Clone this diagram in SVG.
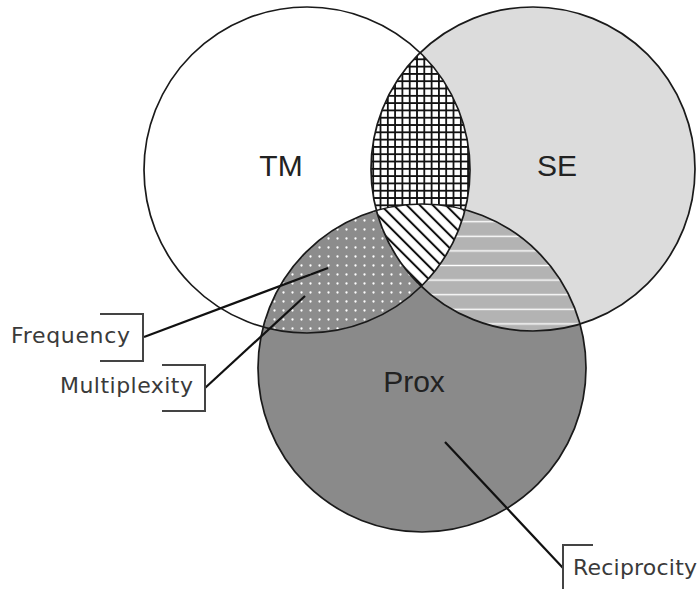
<svg xmlns="http://www.w3.org/2000/svg" width="700" height="589" viewBox="0 0 700 589">
  <style>
    .ring { fill: none; stroke: #1a1a1a; stroke-width: 1.7; }
    .big { font-family: "Liberation Sans", Arial, sans-serif; font-size: 30px; fill: #222; }
    .lbl { font-family: "DejaVu Sans", Verdana, sans-serif; font-size: 22px; fill: #3a3a3a; }
    .lead { fill: none; stroke: #111; stroke-width: 2.2; }
    .brk { fill: none; stroke: #444; stroke-width: 2; }
  </style>
  <defs>
    <clipPath id="cTM"><circle cx="307" cy="170" r="163"/></clipPath>
    <clipPath id="cSE"><circle cx="533" cy="169" r="162"/></clipPath>
    <clipPath id="cPX"><circle cx="422" cy="368" r="164"/></clipPath>

    <!-- square grid -->
    <pattern id="cross" patternUnits="userSpaceOnUse" x="0" y="0" width="7.3" height="7.3">
      <rect width="7.3" height="7.3" fill="#fff"/>
      <path d="M0 0.9H7.3M0.9 0V7.3" stroke="#111" stroke-width="1.8"/>
    </pattern>
    <!-- diagonal hatching -->
    <pattern id="diag" patternUnits="userSpaceOnUse" width="9.2" height="9.2" patternTransform="rotate(-45)">
      <rect width="9.2" height="9.2" fill="#fff"/>
      <line x1="4.6" y1="0" x2="4.6" y2="9.2" stroke="#111" stroke-width="2"/>
    </pattern>
    <!-- horizontal white stripes -->
    <pattern id="stripe" patternUnits="userSpaceOnUse" x="0" y="214.4" width="20" height="14.6">
      <rect width="20" height="14.6" fill="#b3b3b3"/>
      <line x1="0" y1="7.3" x2="20" y2="7.3" stroke="#fff" stroke-width="1.4"/>
    </pattern>
    <!-- white dots -->
    <pattern id="dots" patternUnits="userSpaceOnUse" width="9" height="9">
      <rect width="9" height="9" fill="#8c8c8c"/>
      <circle cx="4.5" cy="4.5" r="1.15" fill="#fff"/>
    </pattern>
  </defs>

  <!-- base discs -->
  <g id="tm">
    <circle cx="307" cy="170" r="163" fill="#fff"/>
  </g>
  <g id="se">
    <circle cx="533" cy="169" r="162" fill="#dcdcdc"/>
  </g>
  <g id="prox">
    <circle cx="422" cy="368" r="164" fill="#8a8a8a"/>
  </g>

  <!-- overlaps -->
  <g id="tm-se" clip-path="url(#cTM)">
    <rect x="0" y="0" width="700" height="589" fill="url(#cross)" clip-path="url(#cSE)"/>
  </g>
  <g id="tm-prox" clip-path="url(#cTM)">
    <rect x="0" y="0" width="700" height="589" fill="url(#dots)" clip-path="url(#cPX)"/>
  </g>
  <g id="se-prox" clip-path="url(#cSE)">
    <rect x="0" y="0" width="700" height="589" fill="url(#stripe)" clip-path="url(#cPX)"/>
  </g>
  <g id="all-three" clip-path="url(#cTM)">
    <g clip-path="url(#cSE)">
      <rect x="0" y="0" width="700" height="589" fill="url(#diag)" clip-path="url(#cPX)"/>
    </g>
  </g>

  <!-- outlines -->
  <g id="outlines">
    <circle class="ring" cx="307" cy="170" r="163"/>
    <circle class="ring" cx="533" cy="169" r="162"/>
    <circle class="ring" cx="422" cy="368" r="164"/>
  </g>

  <!-- set names -->
  <text class="big" x="281" y="176" text-anchor="middle">TM</text>
  <text class="big" x="557" y="176" text-anchor="middle">SE</text>
  <text class="big" x="414" y="392" text-anchor="middle">Prox</text>

  <!-- callouts -->
  <g id="connectors">
    <line class="lead" x1="144" y1="337" x2="328" y2="268"/>
    <line class="lead" x1="205" y1="388" x2="305" y2="296"/>
    <line class="lead" x1="445" y1="442" x2="563" y2="568"/>
    <polyline class="brk" points="100,314 143,314 143,361 100,361"/>
    <polyline class="brk" points="162,365 205,365 205,411 162,411"/>
    <polyline class="brk" points="593,545 563,545 563,592"/>
  </g>

  <g id="label-frequency">
    <text class="lbl" x="11" y="343" textLength="119">Frequency</text>
  </g>
  <g id="label-multiplexity">
    <text class="lbl" x="60" y="393" textLength="133">Multiplexity</text>
  </g>
  <g id="label-reciprocity">
    <text class="lbl" x="573" y="575" textLength="124">Reciprocity</text>
  </g>
</svg>
